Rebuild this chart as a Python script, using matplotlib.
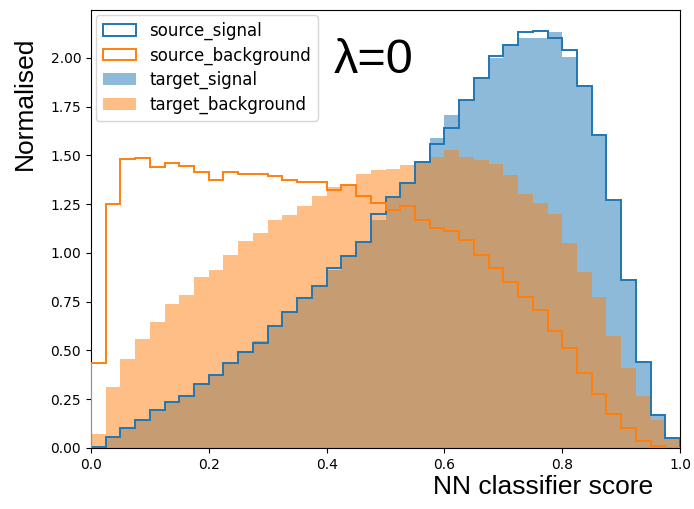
import numpy as np
import matplotlib
matplotlib.use("Agg")
import matplotlib.pyplot as plt

# 40 bins on [0, 1] (normalised densities)
bin_edges = np.linspace(0, 1, 41)

source_signal = [0.005, 0.054, 0.102, 0.145, 0.196, 0.238, 0.268, 0.329, 0.373, 0.438,
                 0.494, 0.540, 0.626, 0.699, 0.767, 0.830, 0.924, 0.984, 1.057, 1.200,
                 1.287, 1.359, 1.466, 1.557, 1.642, 1.782, 1.896, 2.008, 2.067, 2.135,
                 2.140, 2.102, 2.041, 1.857, 1.603, 1.274, 0.861, 0.440, 0.170, 0.051]

source_background = [0.435, 1.253, 1.480, 1.485, 1.440, 1.459, 1.447, 1.417, 1.376, 1.415,
                     1.405, 1.407, 1.394, 1.376, 1.364, 1.364, 1.323, 1.347, 1.294, 1.258,
                     1.219, 1.241, 1.168, 1.130, 1.113, 1.065, 0.989, 0.924, 0.851, 0.776,
                     0.707, 0.602, 0.510, 0.384, 0.274, 0.174, 0.102, 0.034, 0.008, 0.001]

target_signal = [0.006, 0.050, 0.100, 0.148, 0.194, 0.236, 0.272, 0.326, 0.376, 0.430,
                 0.498, 0.550, 0.620, 0.690, 0.772, 0.826, 0.912, 0.990, 1.050, 1.170,
                 1.280, 1.362, 1.470, 1.590, 1.705, 1.780, 1.900, 2.000, 2.070, 2.100,
                 2.100, 2.131, 2.007, 1.857, 1.600, 1.274, 0.861, 0.440, 0.170, 0.051]

target_background = [0.073, 0.312, 0.457, 0.559, 0.644, 0.736, 0.784, 0.878, 0.915, 0.989,
                     1.060, 1.103, 1.168, 1.193, 1.241, 1.294, 1.338, 1.352, 1.407, 1.427,
                     1.432, 1.449, 1.470, 1.492, 1.529, 1.492, 1.478, 1.454, 1.402, 1.304,
                     1.256, 1.202, 1.049, 0.903, 0.772, 0.574, 0.409, 0.264, 0.145, 0.048]

centers = 0.5 * (bin_edges[:-1] + bin_edges[1:])

fig = plt.figure(figsize=(6.94, 5.09), dpi=100)
ax = fig.add_axes([0.131, 0.120, 0.849, 0.860])

ax.hist(centers, bins=bin_edges, weights=source_signal, histtype="step",
        color="C0", linewidth=1.4, label="source_signal", zorder=3)
ax.hist(centers, bins=bin_edges, weights=source_background, histtype="step",
        color="C1", linewidth=1.4, label="source_background", zorder=3)
ax.hist(centers, bins=bin_edges, weights=target_signal, histtype="stepfilled",
        color="C0", alpha=0.5, label="target_signal")
ax.hist(centers, bins=bin_edges, weights=target_background, histtype="stepfilled",
        color="C1", alpha=0.5, label="target_background")

ax.set_xlim(0, 1)
ax.set_ylim(0, 2.245)
ax.tick_params(labelsize=10)
ax.legend(loc="upper left", fontsize=12, labelspacing=0.38, borderaxespad=0.3)

ax.text(0.412, 0.885, "λ=0", transform=ax.transAxes, fontsize=35,
        family="Liberation Sans", ha="left", va="center")
fig.text(25 / 694, 1 - 103 / 509, "Normalised", rotation=90, fontsize=19,
         family="Liberation Sans", ha="center", va="center")
fig.text(543 / 694, 1 - 487 / 509, "NN classifier score", fontsize=19,
         family="Liberation Sans", ha="center", va="center")

fig.savefig("out.png", dpi=100)
